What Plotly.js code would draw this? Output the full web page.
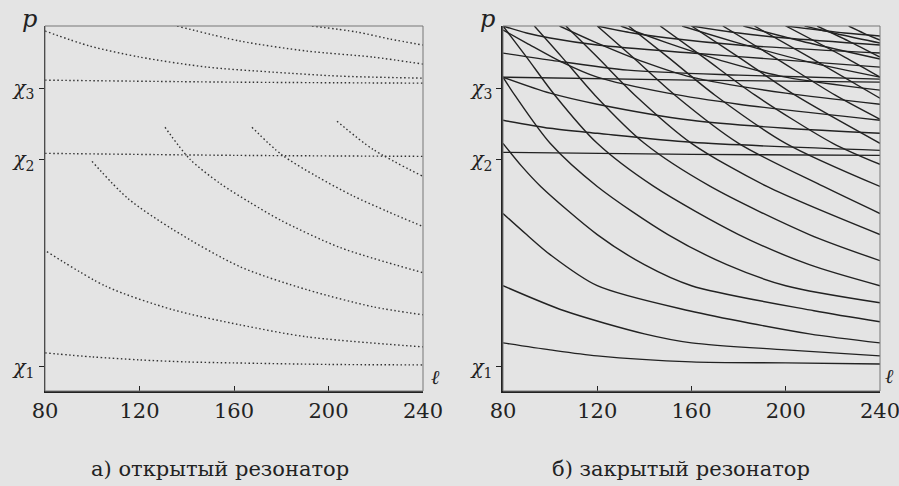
<!DOCTYPE html>
<html>
<head>
<meta charset="utf-8">
<script src="https://cdn.plot.ly/plotly-3.0.1.min.js"></script>
<style>html,body{margin:0;padding:0;background:#e4e4e4;}#chart{width:899px;height:486px;}</style>
</head>
<body>
<div id="chart"></div>
<script>
// ---- tick labels ----
const xTicks = [80, 120, 160, 200, 240];
const chiVals = [24, 231, 302];
const chiText = ['<i>χ</i><sub>1</sub>', '<i>χ</i><sub>2</sub>', '<i>χ</i><sub>3</sub>'];
const captions = ['а) открытый резонатор', 'б) закрытый резонатор'];

// ---- (a) open resonator: dotted curves (x = l, y = p in arbitrary units) ----
const openX = [
  [80, 100, 120, 140, 160, 200, 240],
  [80.8, 106.2, 134.2, 162.5, 190.9, 240],
  [99.9, 115.1, 134.2, 162.5, 190.9, 218.8, 240],
  [130.8, 141.4, 154.1, 166.8, 180, 205, 240],
  [167.6, 180, 195, 210, 225, 240],
  [203.6, 218.8, 240],
  [193, 212, 226, 240],
  [135.9, 162.5, 190.9, 218.8, 240],
  [80, 99, 120.2, 148.6, 176.5, 204.9, 240],
  [80, 160, 240],
  [80, 160, 240]
];
const openY = [
  [38, 34, 31, 29, 28, 26.5, 26],
  [139, 104, 81, 66, 54, 44],
  [229, 192, 161, 124, 101, 84, 76],
  [263, 231, 207, 188, 170, 143, 118],
  [263, 236, 214, 195, 179, 164],
  [269, 241, 214],
  [364, 358, 351, 345],
  [364, 349, 339, 333, 326],
  [359, 344, 333, 323, 318, 314, 312],
  [310, 308, 307],
  [237, 235, 234]
];

// ---- (b) closed resonator: solid curves, family approaching χ1 ----
const closed1X = [
  [80, 100, 120, 160, 200, 240],
  [80, 106, 140, 160, 200, 240],
  [80, 90, 100, 120, 159, 210, 240],
  [80, 88, 96, 120, 140, 160, 212, 240],
  [80, 85, 100, 120, 150, 175, 200, 240],
  [80, 90, 102, 120, 144, 180, 210, 240],
  [93.3, 105, 119, 140, 168, 210, 240],
  [106.7, 120, 136, 160, 192, 240],
  [120, 135, 153, 180, 216, 240],
  [133.3, 150, 170, 200, 240],
  [146.7, 165, 187, 220, 240],
  [160, 180, 204, 240],
  [173.3, 195, 221, 240],
  [186.7, 210, 240],
  [200, 225, 240],
  [213.3, 226.7, 240],
  [226.7, 233, 240]
];
const closed1Y = [
  [48, 41, 35, 29, 28, 27],
  [105, 80, 57, 48, 41, 35],
  [177, 156, 136, 105, 80, 57, 48],
  [247, 224, 204, 156, 126, 105, 80, 69],
  [313, 295, 247, 204, 156, 126, 105, 88],
  [364, 333, 295, 247, 204, 156, 126, 105],
  [364, 333, 295, 247, 204, 156, 130],
  [364, 333, 295, 247, 204, 156],
  [364, 333, 295, 247, 204, 177],
  [364, 333, 295, 247, 204],
  [364, 333, 295, 247, 226],
  [364, 333, 295, 247],
  [364, 333, 295, 271],
  [364, 333, 292],
  [364, 333, 313],
  [364, 349, 333],
  [364, 357, 350]
];

// ---- (b) family approaching χ2 ----
const closed2X = [
  [80, 160, 240],
  [80, 100, 120, 160, 240],
  [80, 100, 120, 160, 200, 240],
  [80, 90, 105, 120, 150, 180, 240],
  [104, 120, 140, 160, 200, 240],
  [130, 150, 175, 200, 240],
  [156, 180, 210, 240],
  [182, 210, 240],
  [208, 224, 240]
];
const closed2Y = [
  [238, 236, 235],
  [270, 262, 257, 248, 240],
  [313, 297, 286, 270, 262, 257],
  [360, 347, 328, 313, 297, 286, 270],
  [364, 347, 328, 313, 297, 286],
  [364, 347, 328, 313, 300],
  [364, 347, 328, 313],
  [364, 347, 331],
  [364, 355, 347]
];

// ---- (b) family approaching χ3 ----
const closed3X = [
  [80, 160, 240],
  [80, 100, 133, 180, 240],
  [80, 90, 100, 120, 160, 200, 240],
  [120, 135, 150, 180, 240],
  [160, 180, 200, 240],
  [200, 225, 240]
];
const closed3Y = [
  [313, 310, 308],
  [337, 330, 320, 315, 311],
  [364, 357, 352, 345, 337, 330, 323],
  [364, 357, 352, 345, 337],
  [364, 357, 352, 345],
  [364, 357, 354]
];

// ---- build traces ----
const ink = '#222222';
const traces = [];
function addCurves(xs, ys, xa, ya, line) {
  xs.forEach((x, i) => {
    traces.push({
      type: 'scatter', mode: 'lines', x: x, y: ys[i],
      xaxis: xa, yaxis: ya, hoverinfo: 'skip',
      line: Object.assign({shape: 'spline', smoothing: 0.8}, line)
    });
  });
}
const dotted = {color: '#333333', width: 1.4, dash: '1.5px,2.5px'};
const solid = {color: ink, width: 1.4};
addCurves(openX, openY, 'x', 'y', dotted);
addCurves(closed1X, closed1Y, 'x2', 'y2', solid);
addCurves(closed2X, closed2Y, 'x2', 'y2', solid);
addCurves(closed3X, closed3Y, 'x2', 'y2', solid);

const serif = 'DejaVu Serif';
function xAxis(domain, anchor) {
  return {
    domain: domain, anchor: anchor, range: [80, 240],
    tickvals: xTicks, ticktext: xTicks.map(String),
    ticks: 'inside', ticklen: 5, tickwidth: 1, tickcolor: ink,
    ticklabeloverflow: 'allow',
    showline: true, linecolor: ink, linewidth: 1.5,
    showgrid: false, zeroline: false, fixedrange: true,
    tickfont: {family: serif, size: 21, color: ink}
  };
}
function yAxis(anchor) {
  return {
    domain: [0, 1], anchor: anchor, range: [0, 364],
    tickvals: chiVals, ticktext: chiText,
    ticks: 'outside', ticklen: 5, tickwidth: 1, tickcolor: ink,
    showline: true, linecolor: ink, linewidth: 1.5,
    showgrid: false, zeroline: false, fixedrange: true,
    tickfont: {family: serif, size: 20, color: ink}
  };
}

const bg = '#e4e4e4';
function label(px, py, text, size) {
  return {xref: 'paper', yref: 'paper', x: (px - 45) / 835, y: (391 - py) / 365,
    xanchor: 'center', yanchor: 'middle', text: text, showarrow: false,
    font: {family: serif, size: size, color: ink}};
}
function arrow(xr, yr, x, y, ax, ay) {
  return {xref: xr, yref: yr, x: x, y: y, text: '', showarrow: true, ax: ax, ay: ay,
    arrowhead: 2, arrowsize: 1, arrowwidth: 1.3, arrowcolor: ink};
}
const layout = {
  width: 899, height: 486,
  paper_bgcolor: bg, plot_bgcolor: bg,
  font: {family: serif, color: ink},
  margin: {l: 45, r: 19, t: 26, b: 95},
  showlegend: false,
  xaxis: xAxis([0, 0.4527], 'y'),
  yaxis: yAxis('x'),
  xaxis2: xAxis([0.5485, 1], 'y2'),
  yaxis2: yAxis('x2'),
  shapes: [
    {type: 'rect', xref: 'x domain', yref: 'y domain', x0: 0, x1: 1, y0: 0, y1: 1, line: {color: '#777', width: 1}},
    {type: 'rect', xref: 'x2 domain', yref: 'y2 domain', x0: 0, x1: 1, y0: 0, y1: 1, line: {color: '#777', width: 1}}
  ],
  annotations: [
    arrow('x', 'y', 80, 373, 0, 14),
    arrow('x2', 'y2', 80, 373, 0, 14),
    arrow('x', 'y', 244, 0, -12, 0),
    arrow('x2', 'y2', 244, 0, -12, 0),
    label(29, 19, '<i>p</i>', 24),
    label(487, 19, '<i>p</i>', 24),
    label(435, 377, '<i>ℓ</i>', 20),
    label(889, 376, '<i>ℓ</i>', 20),
    label(220, 469, captions[0], 21),
    label(681, 469, captions[1], 21)
  ]
};

Plotly.newPlot('chart', traces, layout, {displayModeBar: false, staticPlot: true});
</script>
</body>
</html>
